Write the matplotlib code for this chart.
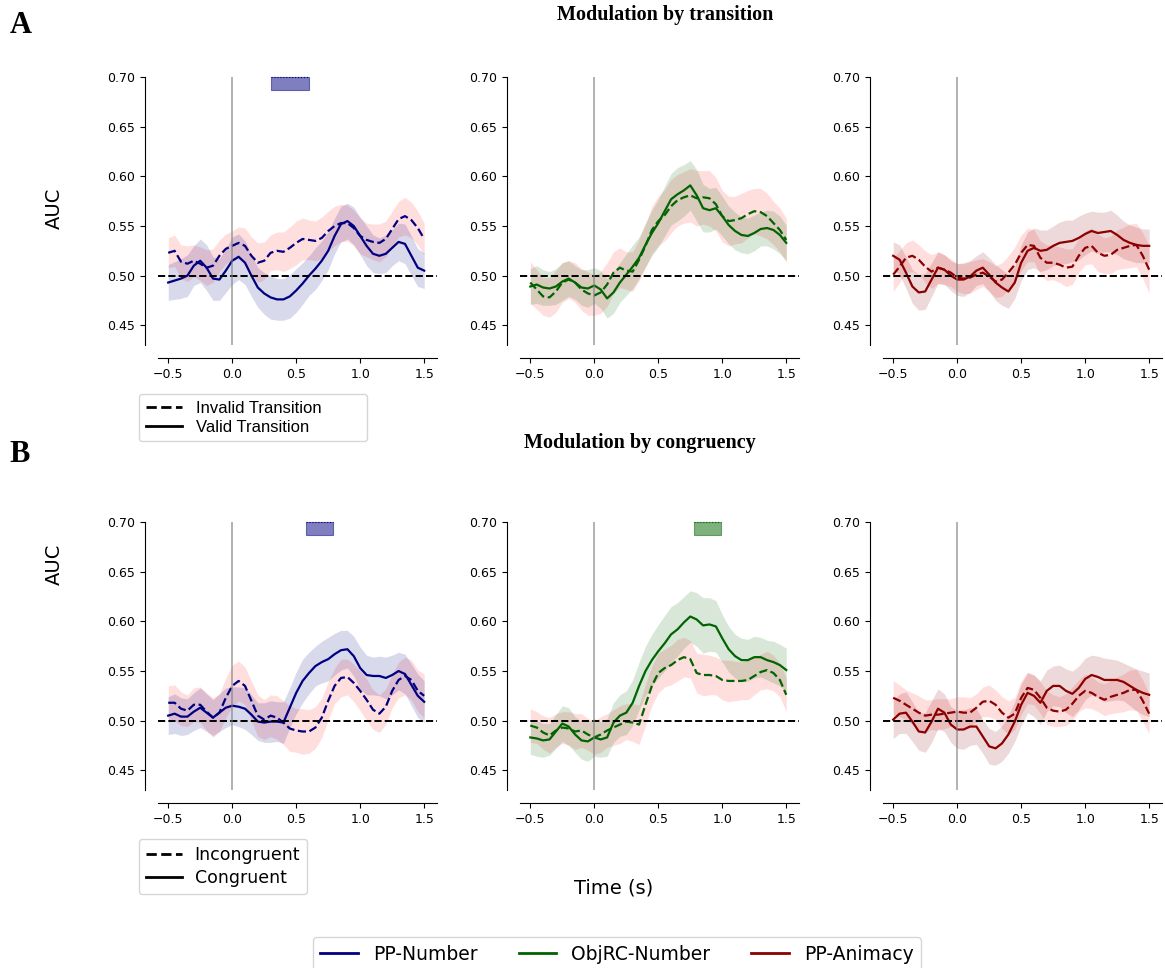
import numpy as np
import matplotlib.pyplot as plt

# time axis (s), one sample every 50 ms
times = np.round(np.arange(-0.5, 1.501, 0.05), 2)

# ---- A: modulation by transition ----
# PP-Number
a_num_valid = [0.493, 0.495, 0.497, 0.500, 0.510, 0.515, 0.508, 0.497, 0.496, 0.505,
               0.515, 0.519, 0.513, 0.500, 0.488, 0.482, 0.478, 0.476, 0.476, 0.479,
               0.485, 0.492, 0.500, 0.507, 0.515, 0.525, 0.540, 0.552, 0.555, 0.550,
               0.540, 0.530, 0.522, 0.520, 0.522, 0.528, 0.534, 0.532, 0.520, 0.508, 0.505]
a_num_invalid = [0.523, 0.525, 0.514, 0.512, 0.515, 0.512, 0.508, 0.510, 0.520, 0.527,
                 0.530, 0.533, 0.530, 0.520, 0.513, 0.515, 0.523, 0.525, 0.524, 0.528,
                 0.533, 0.537, 0.536, 0.535, 0.538, 0.545, 0.550, 0.553, 0.553, 0.548,
                 0.540, 0.536, 0.534, 0.533, 0.537, 0.547, 0.557, 0.560, 0.556, 0.548, 0.537]
a_num_valid_se = [0.018, 0.019, 0.020, 0.021, 0.020, 0.022, 0.023, 0.022, 0.021, 0.022,
                  0.024, 0.023, 0.022, 0.021, 0.020, 0.021, 0.022, 0.021, 0.021, 0.022,
                  0.022, 0.021, 0.020, 0.021, 0.020, 0.019, 0.018, 0.018, 0.018, 0.019,
                  0.019, 0.020, 0.019, 0.018, 0.019, 0.018, 0.019, 0.020, 0.020, 0.019, 0.018]
a_num_invalid_se = [0.015, 0.016, 0.017, 0.018, 0.016, 0.017, 0.018, 0.017, 0.016, 0.015,
                    0.015, 0.016, 0.018, 0.019, 0.020, 0.019, 0.018, 0.019, 0.020, 0.021,
                    0.022, 0.021, 0.020, 0.020, 0.021, 0.020, 0.020, 0.019, 0.018, 0.018,
                    0.018, 0.017, 0.018, 0.019, 0.018, 0.018, 0.018, 0.019, 0.018, 0.017, 0.016]

# ObjRC-Number
a_obj_valid = [0.489, 0.491, 0.488, 0.487, 0.489, 0.494, 0.497, 0.493, 0.488, 0.487,
               0.490, 0.486, 0.477, 0.483, 0.493, 0.501, 0.509, 0.518, 0.531, 0.543,
               0.553, 0.565, 0.577, 0.582, 0.586, 0.591, 0.581, 0.568, 0.566, 0.568,
               0.560, 0.551, 0.545, 0.541, 0.540, 0.543, 0.547, 0.548, 0.546, 0.541, 0.533]
a_obj_invalid = [0.493, 0.486, 0.479, 0.478, 0.484, 0.493, 0.496, 0.493, 0.486, 0.482,
                 0.480, 0.483, 0.491, 0.503, 0.508, 0.505, 0.504, 0.516, 0.530, 0.546,
                 0.555, 0.561, 0.570, 0.576, 0.579, 0.581, 0.578, 0.579, 0.578, 0.572,
                 0.560, 0.555, 0.556, 0.558, 0.562, 0.565, 0.564, 0.560, 0.553, 0.546, 0.536]
a_obj_valid_se = [0.018, 0.019, 0.018, 0.017, 0.018, 0.019, 0.018, 0.017, 0.018, 0.019,
                  0.018, 0.019, 0.020, 0.021, 0.020, 0.021, 0.022, 0.021, 0.022, 0.023,
                  0.024, 0.025, 0.026, 0.027, 0.026, 0.025, 0.026, 0.024, 0.022, 0.021,
                  0.020, 0.019, 0.019, 0.018, 0.018, 0.018, 0.017, 0.018, 0.019, 0.019, 0.018]
a_obj_invalid_se = [0.021, 0.020, 0.019, 0.020, 0.021, 0.020, 0.019, 0.020, 0.021, 0.022,
                    0.020, 0.021, 0.022, 0.021, 0.020, 0.019, 0.020, 0.021, 0.022, 0.024,
                    0.025, 0.026, 0.027, 0.026, 0.026, 0.027, 0.028, 0.027, 0.028, 0.027,
                    0.026, 0.025, 0.024, 0.025, 0.024, 0.023, 0.024, 0.023, 0.022, 0.022, 0.022]

# PP-Animacy
a_ani_valid = [0.520, 0.516, 0.503, 0.489, 0.483, 0.484, 0.496, 0.508, 0.506, 0.500,
               0.496, 0.496, 0.499, 0.505, 0.508, 0.501, 0.493, 0.488, 0.484, 0.493,
               0.513, 0.525, 0.528, 0.525, 0.526, 0.530, 0.533, 0.534, 0.535, 0.538,
               0.542, 0.545, 0.543, 0.544, 0.545, 0.541, 0.536, 0.533, 0.531, 0.530, 0.530]
a_ani_invalid = [0.501, 0.509, 0.518, 0.520, 0.516, 0.509, 0.504, 0.508, 0.506, 0.503,
                 0.498, 0.497, 0.498, 0.501, 0.503, 0.499, 0.494, 0.496, 0.503, 0.511,
                 0.523, 0.531, 0.530, 0.518, 0.513, 0.513, 0.511, 0.508, 0.509, 0.520,
                 0.528, 0.530, 0.523, 0.520, 0.521, 0.526, 0.528, 0.530, 0.531, 0.520, 0.506]
a_ani_valid_se = [0.014, 0.015, 0.016, 0.017, 0.018, 0.018, 0.017, 0.016, 0.015, 0.015,
                  0.016, 0.017, 0.016, 0.015, 0.016, 0.017, 0.018, 0.018, 0.017, 0.016,
                  0.018, 0.019, 0.020, 0.021, 0.020, 0.020, 0.021, 0.022, 0.021, 0.022,
                  0.021, 0.020, 0.021, 0.020, 0.021, 0.020, 0.019, 0.018, 0.018, 0.017, 0.017]
a_ani_invalid_se = [0.017, 0.016, 0.015, 0.016, 0.015, 0.016, 0.017, 0.016, 0.015, 0.014,
                    0.014, 0.015, 0.016, 0.015, 0.014, 0.015, 0.016, 0.017, 0.017, 0.018,
                    0.018, 0.017, 0.016, 0.017, 0.018, 0.017, 0.018, 0.019, 0.018, 0.017,
                    0.017, 0.018, 0.019, 0.018, 0.019, 0.020, 0.021, 0.022, 0.022, 0.023, 0.024]

# ---- B: modulation by congruency ----
# PP-Number
b_num_cong = [0.505, 0.507, 0.504, 0.504, 0.509, 0.513, 0.508, 0.503, 0.508, 0.513,
              0.515, 0.514, 0.512, 0.506, 0.499, 0.498, 0.499, 0.499, 0.498, 0.513,
              0.528, 0.540, 0.548, 0.555, 0.559, 0.562, 0.567, 0.571, 0.572, 0.565,
              0.553, 0.546, 0.545, 0.545, 0.543, 0.546, 0.550, 0.547, 0.536, 0.525, 0.519]
b_num_incong = [0.518, 0.518, 0.512, 0.510, 0.516, 0.516, 0.509, 0.503, 0.508, 0.523,
                0.535, 0.540, 0.535, 0.520, 0.505, 0.501, 0.505, 0.503, 0.498, 0.492,
                0.490, 0.489, 0.489, 0.493, 0.503, 0.520, 0.535, 0.543, 0.544, 0.538,
                0.530, 0.521, 0.511, 0.507, 0.514, 0.530, 0.541, 0.545, 0.541, 0.530, 0.525]
b_num_cong_se = [0.019, 0.020, 0.019, 0.018, 0.019, 0.020, 0.019, 0.018, 0.019, 0.020,
                 0.019, 0.020, 0.021, 0.020, 0.019, 0.020, 0.021, 0.020, 0.021, 0.020,
                 0.021, 0.022, 0.021, 0.020, 0.021, 0.022, 0.021, 0.020, 0.019, 0.020,
                 0.021, 0.020, 0.019, 0.020, 0.021, 0.020, 0.019, 0.020, 0.021, 0.022, 0.021]
b_num_incong_se = [0.017, 0.018, 0.017, 0.016, 0.017, 0.018, 0.019, 0.020, 0.019, 0.020,
                   0.021, 0.020, 0.019, 0.020, 0.021, 0.020, 0.021, 0.022, 0.022, 0.023,
                   0.022, 0.023, 0.022, 0.021, 0.020, 0.019, 0.018, 0.019, 0.018, 0.019,
                   0.020, 0.021, 0.020, 0.019, 0.018, 0.017, 0.018, 0.019, 0.020, 0.021, 0.022]

# ObjRC-Number
b_obj_cong = [0.483, 0.482, 0.480, 0.481, 0.489, 0.497, 0.494, 0.486, 0.480, 0.479,
              0.483, 0.481, 0.483, 0.498, 0.505, 0.508, 0.518, 0.535, 0.550, 0.561,
              0.570, 0.578, 0.587, 0.592, 0.599, 0.605, 0.602, 0.596, 0.597, 0.595,
              0.583, 0.572, 0.565, 0.561, 0.561, 0.564, 0.564, 0.561, 0.559, 0.556, 0.551]
b_obj_incong = [0.495, 0.493, 0.488, 0.485, 0.490, 0.493, 0.492, 0.489, 0.490, 0.486,
                0.483, 0.486, 0.490, 0.493, 0.496, 0.499, 0.498, 0.496, 0.516, 0.535,
                0.548, 0.553, 0.556, 0.561, 0.564, 0.562, 0.548, 0.546, 0.546, 0.545,
                0.541, 0.540, 0.540, 0.540, 0.541, 0.545, 0.549, 0.551, 0.548, 0.541, 0.526]
b_obj_cong_se = [0.017, 0.018, 0.017, 0.016, 0.017, 0.018, 0.019, 0.018, 0.019, 0.020,
                 0.019, 0.018, 0.019, 0.020, 0.021, 0.022, 0.023, 0.024, 0.025, 0.026,
                 0.027, 0.028, 0.028, 0.027, 0.026, 0.026, 0.027, 0.028, 0.027, 0.026,
                 0.024, 0.023, 0.022, 0.022, 0.021, 0.021, 0.020, 0.020, 0.021, 0.021, 0.022]
b_obj_incong_se = [0.017, 0.016, 0.017, 0.018, 0.017, 0.016, 0.017, 0.018, 0.017, 0.016,
                   0.017, 0.018, 0.017, 0.018, 0.019, 0.018, 0.019, 0.020, 0.021, 0.020,
                   0.020, 0.019, 0.020, 0.021, 0.020, 0.019, 0.020, 0.021, 0.020, 0.019,
                   0.020, 0.021, 0.020, 0.019, 0.020, 0.019, 0.018, 0.019, 0.018, 0.017, 0.017]

# PP-Animacy
b_ani_cong = [0.501, 0.507, 0.508, 0.499, 0.489, 0.488, 0.499, 0.512, 0.508, 0.496,
              0.491, 0.491, 0.494, 0.494, 0.484, 0.474, 0.472, 0.477, 0.486, 0.499,
              0.516, 0.528, 0.525, 0.518, 0.530, 0.535, 0.535, 0.530, 0.527, 0.533,
              0.542, 0.546, 0.544, 0.541, 0.541, 0.541, 0.539, 0.535, 0.531, 0.528, 0.526]
b_ani_incong = [0.523, 0.520, 0.516, 0.512, 0.508, 0.505, 0.506, 0.506, 0.507, 0.508,
                0.509, 0.508, 0.508, 0.513, 0.519, 0.520, 0.516, 0.508, 0.503, 0.507,
                0.523, 0.533, 0.531, 0.523, 0.513, 0.510, 0.509, 0.511, 0.517, 0.525,
                0.530, 0.528, 0.524, 0.521, 0.524, 0.526, 0.528, 0.531, 0.531, 0.520, 0.507]
b_ani_cong_se = [0.019, 0.020, 0.021, 0.020, 0.019, 0.020, 0.021, 0.020, 0.019, 0.018,
                 0.019, 0.020, 0.019, 0.018, 0.017, 0.018, 0.017, 0.018, 0.019, 0.020,
                 0.021, 0.020, 0.021, 0.022, 0.021, 0.020, 0.021, 0.022, 0.023, 0.022,
                 0.021, 0.020, 0.021, 0.022, 0.021, 0.020, 0.019, 0.020, 0.021, 0.022, 0.022]
b_ani_incong_se = [0.017, 0.016, 0.015, 0.016, 0.017, 0.016, 0.015, 0.016, 0.015, 0.014,
                   0.015, 0.016, 0.015, 0.014, 0.015, 0.016, 0.015, 0.016, 0.017, 0.016,
                   0.017, 0.016, 0.015, 0.016, 0.017, 0.016, 0.015, 0.016, 0.017, 0.016,
                   0.017, 0.016, 0.015, 0.016, 0.017, 0.018, 0.019, 0.020, 0.021, 0.021, 0.020]

# significant clusters (start, end) in seconds
a_num_sig = (0.30, 0.60)
b_num_sig = (0.58, 0.79)
b_obj_sig = (0.78, 0.99)

labels = ['PP-Number', 'ObjRC-Number', 'PP-Animacy']
colors = ['navy', 'darkgreen', 'darkred']

rows = [
    [(a_num_valid, a_num_valid_se, a_num_invalid, a_num_invalid_se, a_num_sig),
     (a_obj_valid, a_obj_valid_se, a_obj_invalid, a_obj_invalid_se, None),
     (a_ani_valid, a_ani_valid_se, a_ani_invalid, a_ani_invalid_se, None)],
    [(b_num_cong, b_num_cong_se, b_num_incong, b_num_incong_se, b_num_sig),
     (b_obj_cong, b_obj_cong_se, b_obj_incong, b_obj_incong_se, b_obj_sig),
     (b_ani_cong, b_ani_cong_se, b_ani_incong, b_ani_incong_se, None)],
]

fig = plt.figure(figsize=(11.65, 9.68), dpi=100)

lefts = [0.1356, 0.4464, 0.7579]
bottoms = [0.6436, 0.1839]

for r, row in enumerate(rows):
    for c, (solid, solid_se, dashed, dashed_se, sig) in enumerate(row):
        ax = fig.add_axes([lefts[c], bottoms[r], 0.2395, 0.2765])
        col = colors[c]
        solid = np.array(solid)
        dashed = np.array(dashed)
        solid_se = np.array(solid_se)
        dashed_se = np.array(dashed_se)

        # shaded error bands, then the mean time courses
        ax.fill_between(times, dashed - dashed_se, dashed + dashed_se, color='red', alpha=0.13, lw=0)
        ax.fill_between(times, solid - solid_se, solid + solid_se, color=col, alpha=0.15, lw=0)
        ax.plot(times, dashed, color=col, ls='--', lw=1.6)
        ax.plot(times, solid, color=col, ls='-', lw=1.6)

        ax.axhline(0.5, color='k', ls='--', lw=1.4)
        ax.axvline(0, color='gray', alpha=0.6, lw=1.4)

        if sig is not None:
            ax.fill_between(list(sig), 0.687, 0.70, color=col, alpha=0.5, lw=0.8, clip_on=False)
            ax.hlines(0.70, sig[0], sig[1], colors=col, linestyles=':', lw=0.8, clip_on=False)

        ax.set_xlim(-0.58, 1.60)
        ax.set_ylim(0.43, 0.70)
        ax.set_xticks([-0.5, 0.0, 0.5, 1.0, 1.5])
        ax.set_yticks([0.45, 0.50, 0.55, 0.60, 0.65, 0.70])
        ax.tick_params(labelsize=9)
        for s in ['top', 'right']:
            ax.spines[s].set_visible(False)
        ax.spines['left'].set_position(('outward', 9.5))
        ax.spines['bottom'].set_position(('outward', 9.5))

# titles and panel letters
fig.text(0.571, 0.984, 'Modulation by transition', ha='center', va='center',
         family='Liberation Serif', weight='bold', fontsize=14.5)
fig.text(0.549, 0.542, 'Modulation by congruency', ha='center', va='center',
         family='Liberation Serif', weight='bold', fontsize=14.5)
fig.text(0.008, 0.974, 'A', ha='left', va='center', family='Liberation Serif', weight='bold', fontsize=22)
fig.text(0.008, 0.530, 'B', ha='left', va='center', family='Liberation Serif', weight='bold', fontsize=22)

fig.text(0.047, 0.785, 'AUC', rotation=90, ha='center', va='center', fontsize=14)
fig.text(0.047, 0.417, 'AUC', rotation=90, ha='center', va='center', fontsize=14)
fig.text(0.527, 0.083, 'Time (s)', ha='center', va='center', fontsize=14)

# line style legends
h_dash = plt.Line2D([], [], color='k', ls='--', lw=2)
h_solid = plt.Line2D([], [], color='k', ls='-', lw=2)
fig.legend([h_dash, h_solid], ['Invalid Transition', 'Valid Transition'],
           loc='upper left', bbox_to_anchor=(0.1193, 0.50, 0.1957, 0.093), mode='expand',
           prop={'family': 'Liberation Sans', 'size': 12}, labelspacing=0.25,
           handlelength=2.2, borderaxespad=0)
fig.legend([h_dash, h_solid], ['Incongruent', 'Congruent'],
           loc='upper left', bbox_to_anchor=(0.1193, 0.1333), fontsize=12.5,
           labelspacing=0.3, handlelength=2.1, handletextpad=0.7, borderaxespad=0)

# condition legend
handles = [plt.Line2D([], [], color=c, lw=2) for c in colors]
fig.legend(handles, labels, loc='upper center', bbox_to_anchor=(0.5296, 0.032),
           ncol=3, fontsize=13.5, borderaxespad=0, columnspacing=2.2)

fig.savefig('out.png', dpi=100)
